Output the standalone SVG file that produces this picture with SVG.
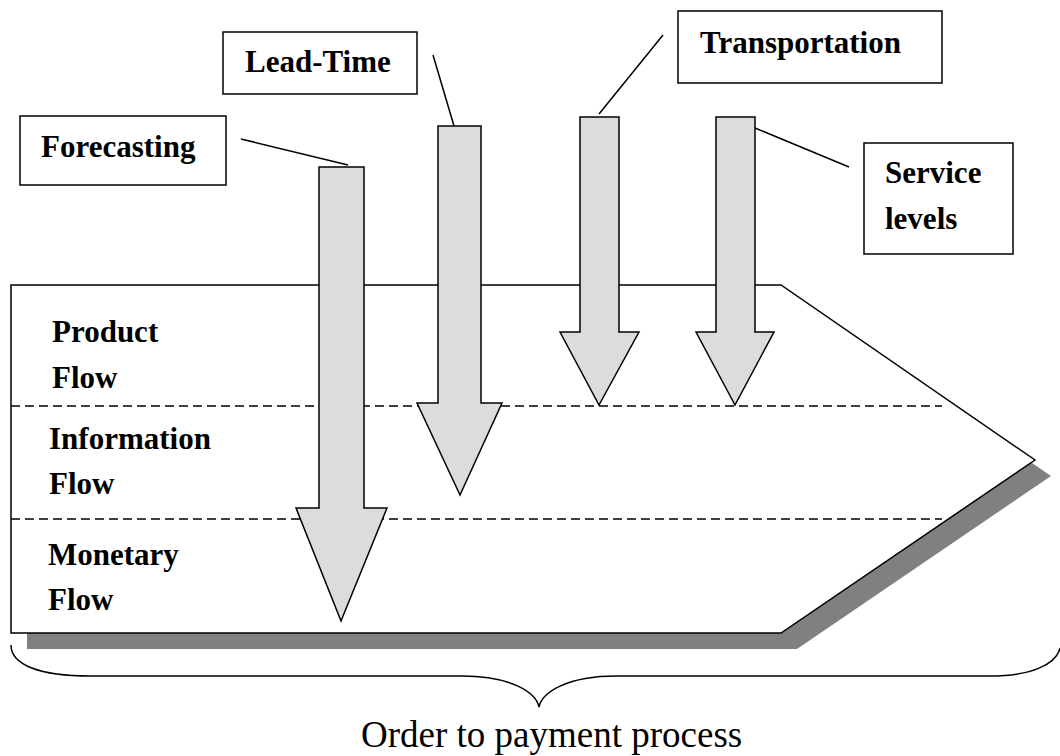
<svg xmlns="http://www.w3.org/2000/svg" width="1060" height="756" viewBox="0 0 1060 756">
<style>
.box{fill:#fff;stroke:#000;stroke-width:1.5}
.lbl{font-family:"Liberation Serif","Times New Roman",serif;font-weight:bold;font-size:31px;fill:#000}
.arrow{fill:#dcdcdc;stroke:#000;stroke-width:1.5;stroke-linejoin:miter}
.conn{stroke:#000;stroke-width:1.5;fill:none}
.dash{stroke:#000;stroke-width:1.5;stroke-dasharray:9 5;fill:none}
</style>
<g id="process">
<polygon points="27,301 797,301 1051,476 797,649 27,649" fill="#808080"/>
<polygon points="11,285 781,285 1035,460 781,633 11,633" fill="#fff" stroke="#000" stroke-width="1.5"/>
<line class="dash" x1="11" y1="406" x2="942" y2="406"/>
<line class="dash" x1="11" y1="519" x2="942" y2="519"/>
<text class="lbl" x="52" y="342">Product</text>
<text class="lbl" x="52" y="388">Flow</text>
<text class="lbl" x="49" y="449">Information</text>
<text class="lbl" x="49" y="494">Flow</text>
<text class="lbl" x="48" y="565">Monetary</text>
<text class="lbl" x="48" y="610">Flow</text>
</g>
<g id="connectors">
<line class="conn" x1="241" y1="139" x2="348" y2="165"/>
<line class="conn" x1="433" y1="55" x2="454" y2="126"/>
<line class="conn" x1="663" y1="35" x2="599" y2="114"/>
<line class="conn" x1="755" y1="128" x2="849" y2="167"/>
</g>
<g id="arrow-forecasting">
<polygon class="arrow" points="319,167 364,167 364,508 387,508 341,621 296,508 319,508"/>
</g>
<g id="arrow-leadtime">
<polygon class="arrow" points="438,126 481,126 481,403 502,403 460,495 417,403 438,403"/>
</g>
<g id="arrow-transportation">
<polygon class="arrow" points="580,117 619,117 619,332 639,332 599,405 560,332 580,332"/>
</g>
<g id="arrow-service">
<polygon class="arrow" points="716,117 755,117 755,332 774,332 735,405 696,332 716,332"/>
</g>
<g id="forecasting">
<rect class="box" x="20" y="116" width="206" height="69"/>
<text class="lbl" x="41" y="157">Forecasting</text>
</g>
<g id="leadtime">
<rect class="box" x="223" y="32" width="194" height="62"/>
<text class="lbl" x="245" y="72">Lead-Time</text>
</g>
<g id="transportation">
<rect class="box" x="678" y="11" width="264" height="72"/>
<text class="lbl" x="700" y="53">Transportation</text>
</g>
<g id="service">
<rect class="box" x="864" y="143" width="149" height="111"/>
<text class="lbl" x="885" y="183">Service</text>
<text class="lbl" x="885" y="229">levels</text>
</g>
<g id="brace">
<path d="M11,645 C11,665 40,676 90,676 L462,676 C510,676 536,692 539,707 C542,692 568,676 616,676 L990,676 C1030,676 1056,665 1060,648" fill="none" stroke="#000" stroke-width="1.5"/>
<text x="361" y="747" font-family="Liberation Serif, Times New Roman, serif" font-size="37" fill="#000">Order to payment process</text>
</g>
</svg>
